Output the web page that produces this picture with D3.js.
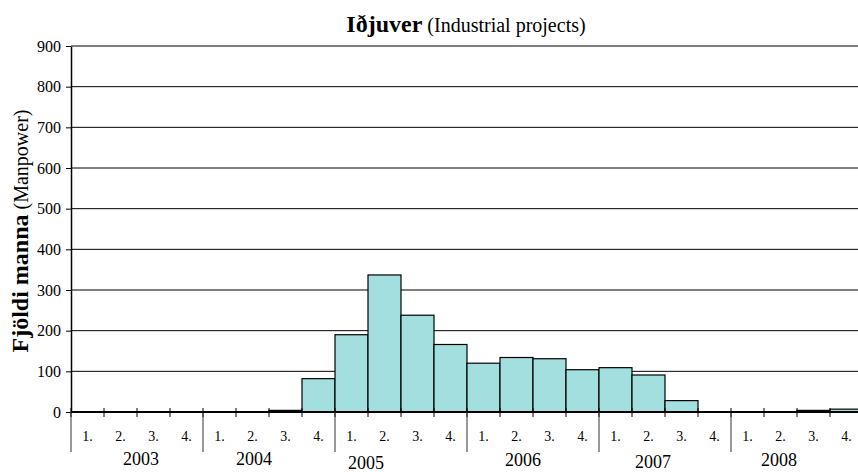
<!DOCTYPE html>
<html>
<head>
<meta charset="utf-8">
<script src="https://cdn.jsdelivr.net/npm/d3@7"></script>
<style>
  body { margin: 0; background: #fff; }
  svg { display: block; font-family: "Liberation Serif", "Times New Roman", serif; }
  .tick text { font-family: "Liberation Serif", "Times New Roman", serif; fill: #000; }
</style>
</head>
<body>
<div id="canvas"></div>
<script>
// data
const years = ["2003", "2004", "2005", "2006", "2007", "2008"];
const quarters = ["1.", "2.", "3.", "4."];
const manpower = [
  0, 0, 0, 0,
  0, 0, 4, 82,
  190, 337, 238, 166,
  120, 134, 131, 104,
  109, 91, 28, 0,
  0, 0, 4, 7
];
const yTicks = [0, 100, 200, 300, 400, 500, 600, 700, 800, 900];

// layout
const width = 858, height = 472;
const margin = { top: 46, left: 71, bottom: 60, right: -5 };
const iwidth = width - margin.left - margin.right;
const iheight = height - margin.top - margin.bottom;
const yearShift = [4, -15, -35, -10, -12, -18];
const yearDrop = [0, 0, 4, 1, 3, 1];

const keys = [];
years.forEach(yr => quarters.forEach(q => keys.push(yr + "-" + q)));
const data = keys.map((k, i) => ({ key: k, year: k.split("-")[0], q: k.split("-")[1], value: manpower[i] }));

const svg = d3.select("#canvas").append("svg")
  .attr("width", width)
  .attr("height", height);

// title
const title = svg.append("text")
  .attr("x", 466)
  .attr("y", 32)
  .attr("text-anchor", "middle");
title.append("tspan").attr("font-weight", "bold").attr("font-size", 24).text("Iðjuver");
title.append("tspan").attr("font-size", 20).text(" (Industrial projects)");

// y axis title
const ytitle = svg.append("text")
  .attr("transform", "translate(28,231) rotate(-90)")
  .attr("text-anchor", "middle");
ytitle.append("tspan").attr("font-weight", "bold").attr("font-size", 24).text("Fjöldi manna");
ytitle.append("tspan").attr("font-size", 20).text("  (Manpower)");

const g = svg.append("g").attr("transform", `translate(${margin.left},${margin.top})`);

const y = d3.scaleLinear().domain([0, 900]).range([iheight, 0]);
const x = d3.scaleBand().domain(keys).range([0, iwidth]).padding(0);
const xYear = d3.scaleBand().domain(years).range([0, iwidth]).padding(0);

// gridlines
g.append("g").selectAll("line")
  .data(yTicks.filter(d => d > 0))
  .enter().append("line")
  .attr("x1", 0).attr("x2", iwidth)
  .attr("y1", d => y(d)).attr("y2", d => y(d))
  .attr("stroke", d => d === 900 ? "#808080" : "#000")
  .attr("stroke-width", d => d === 900 ? 2 : 1);

// bars
g.append("g").selectAll("rect")
  .data(data.filter(d => d.value > 0))
  .enter().append("rect")
  .attr("x", d => x(d.key))
  .attr("y", d => y(d.value))
  .attr("width", x.bandwidth())
  .attr("height", d => iheight - y(d.value))
  .attr("fill", "#a3dfdf")
  .attr("stroke", "#000")
  .attr("stroke-width", 1.2);

// y axis
const yAxis = g.append("g")
  .call(d3.axisLeft(y).tickValues(yTicks).tickSize(5).tickSizeOuter(0).tickPadding(5));
yAxis.attr("font-family", null).attr("font-size", null);
yAxis.select(".domain").attr("stroke", "#000").attr("stroke-width", 1.5);
yAxis.selectAll(".tick line").attr("stroke", "#000");
yAxis.selectAll(".tick text").style("font-size", "16px");

// x axis line
g.append("line")
  .attr("x1", 0).attr("x2", iwidth)
  .attr("y1", iheight).attr("y2", iheight)
  .attr("stroke", "#000").attr("stroke-width", 2);

// quarter boundary ticks
g.append("g").selectAll("line")
  .data(keys)
  .enter().append("line")
  .attr("x1", d => x(d)).attr("x2", d => x(d))
  .attr("y1", iheight - 4).attr("y2", iheight + 5)
  .attr("stroke", "#000").attr("stroke-width", 1);

// year separators
g.append("g").selectAll("line")
  .data(years)
  .enter().append("line")
  .attr("x1", d => xYear(d)).attr("x2", d => xYear(d))
  .attr("y1", iheight).attr("y2", iheight + 40)
  .attr("stroke", "#333").attr("stroke-width", 1);

// quarter labels
const xAxis = g.append("g")
  .attr("transform", `translate(0,${iheight})`)
  .call(d3.axisBottom(x).tickSize(0).tickPadding(19).tickFormat(k => k.split("-")[1]));
xAxis.attr("font-family", null).attr("font-size", null);
xAxis.select(".domain").remove();
xAxis.selectAll(".tick text").style("font-size", "14px");

// year labels
g.append("g").selectAll("text")
  .data(years)
  .enter().append("text")
  .attr("x", (d, i) => xYear(d) + xYear.bandwidth() / 2 + yearShift[i])
  .attr("y", (d, i) => iheight + 53 + yearDrop[i])
  .attr("text-anchor", "middle")
  .attr("font-size", 18)
  .text(d => d);
</script>
</body>
</html>
